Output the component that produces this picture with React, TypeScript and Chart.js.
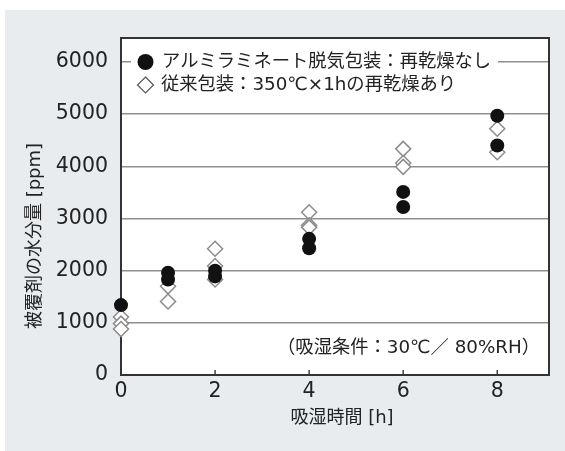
import React, { useEffect, useRef } from "react";
import { Chart, registerables } from "chart.js";

Chart.register(...registerables);

// ---- data ----
const xTickValues = [0, 2, 4, 6, 8];
const yTickValues = [0, 1000, 2000, 3000, 4000, 5000, 6000];
const xMax = 9.1;
const yMax = 6460;

const sealedX = [0, 1, 1, 2, 2, 4, 4, 6, 6, 8, 8];
const sealedY = [1340, 1960, 1830, 2000, 1890, 2610, 2430, 3510, 3220, 4970, 4400];

const convX = [0, 0, 0, 1, 1, 2, 2, 2, 4, 4, 4, 6, 6, 6, 8, 8];
const convY = [1110, 985, 880, 1700, 1410, 2420, 2090, 1830, 3120, 2870, 2830, 4335, 4065, 3990, 4720, 4270];

const legendLabels = ["アルミラミネート脱気包装：再乾燥なし", "従来包装：350℃×1hの再乾燥あり"];
const xTitle = "吸湿時間 [h]";
const yTitle = "被覆剤の水分量 [ppm]";
const noteText = "（吸湿条件：30℃／ 80%RH）";

const FONT = '"DejaVu Sans", "Noto Sans CJK JP", sans-serif';
const TEXT = "#222";

const decorPlugin = {
  id: "decor",
  beforeDraw(chart: any) {
    const { ctx, chartArea: a } = chart;
    ctx.save();
    ctx.fillStyle = "#ffffff";
    ctx.fillRect(0, 0, chart.width, chart.height);
    ctx.fillStyle = "#e9ecef";
    ctx.fillRect(5, 10, chart.width - 5, chart.height - 10);
    ctx.fillStyle = "#ffffff";
    ctx.fillRect(a.left, a.top, a.right - a.left, a.bottom - a.top);
    ctx.restore();
  },
  beforeDatasetsDraw(chart: any) {
    const { ctx, chartArea: a, scales } = chart;
    ctx.save();
    // inside x ticks
    ctx.strokeStyle = "#444";
    ctx.lineWidth = 1.5;
    xTickValues.forEach((v) => {
      const px = scales.x.getPixelForValue(v);
      ctx.beginPath();
      ctx.moveTo(px, a.bottom);
      ctx.lineTo(px, a.bottom - 5);
      ctx.stroke();
    });
    // border
    ctx.strokeStyle = "#333";
    ctx.lineWidth = 2;
    ctx.strokeRect(a.left, a.top, a.right - a.left, a.bottom - a.top);

    // legend
    ctx.fillStyle = "#ffffff";
    ctx.fillRect(131, 50, 367, 48);
    ctx.fillStyle = "#111";
    ctx.beginPath();
    ctx.arc(145.5, 62, 8, 0, Math.PI * 2);
    ctx.fill();
    ctx.strokeStyle = "#555";
    ctx.lineWidth = 1.2;
    ctx.beginPath();
    ctx.moveTo(145.5, 77);
    ctx.lineTo(153.5, 85);
    ctx.lineTo(145.5, 93);
    ctx.lineTo(137.5, 85);
    ctx.closePath();
    ctx.stroke();
    ctx.fillStyle = TEXT;
    ctx.font = `18.3px ${FONT}`;
    ctx.textAlign = "left";
    ctx.textBaseline = "middle";
    ctx.fillText(legendLabels[0], 162, 62);
    ctx.fillText(legendLabels[1], 161, 85);

    // note
    ctx.textAlign = "right";
    ctx.fillText(noteText, 540, 348);

    // axis titles
    ctx.font = `18px ${FONT}`;
    ctx.textAlign = "center";
    ctx.fillText(xTitle, 342, 418);
    ctx.translate(35, 236);
    ctx.rotate(-Math.PI / 2);
    ctx.fillText(yTitle, 0, 0);
    ctx.restore();
  },
};

export default function App() {
  const ref = useRef<HTMLCanvasElement | null>(null);
  useEffect(() => {
    if (!ref.current) return;
    const chart = new Chart(ref.current, {
      type: "scatter",
      data: {
        datasets: [
          {
            label: legendLabels[0],
            data: sealedX.map((x, i) => ({ x, y: sealedY[i] })),
            pointStyle: "circle",
            pointRadius: 7,
            backgroundColor: "#111",
            borderColor: "#111",
            borderWidth: 0,
            clip: false,
          } as any,
          {
            label: legendLabels[1],
            data: convX.map((x, i) => ({ x, y: convY[i] })),
            pointStyle: "rectRot",
            pointRadius: 7.5,
            backgroundColor: "#ffffff",
            borderColor: "#8c8c8c",
            borderWidth: 1.5,
            clip: false,
          } as any,
        ],
      },
      options: {
        responsive: false,
        animation: false,
        layout: { padding: { top: 38, right: 16, left: 0, bottom: 0 } },
        plugins: { legend: { display: false }, tooltip: { enabled: false } },
        scales: {
          x: {
            type: "linear",
            min: 0,
            max: xMax,
            afterBuildTicks: (s: any) => {
              s.ticks = xTickValues.map((v) => ({ value: v }));
            },
            afterFit: (s: any) => {
              s.height = 76;
            },
            ticks: {
              padding: 4,
              color: TEXT,
              font: { size: 20.5, family: FONT },
              callback: (v: any) => String(v),
            },
            grid: { display: false, drawTicks: false },
            border: { display: false },
          },
          y: {
            type: "linear",
            min: 0,
            max: yMax,
            afterBuildTicks: (s: any) => {
              s.ticks = yTickValues.map((v) => ({ value: v }));
            },
            afterFit: (s: any) => {
              s.width = 121;
            },
            ticks: {
              padding: 13,
              color: TEXT,
              font: { size: 20.5, family: FONT },
              callback: (v: any) => String(v),
            },
            grid: { color: "#8f8f8f", lineWidth: 1.5, drawTicks: false },
            border: { display: false },
          },
        },
      } as any,
      plugins: [decorPlugin],
    });
    return () => chart.destroy();
  }, []);
  return (
    <div style={{ position: "fixed", left: 0, top: 0, width: 565, height: 451 }}>
      <canvas ref={ref} width={565} height={451} style={{ display: "block" }} />
    </div>
  );
}
